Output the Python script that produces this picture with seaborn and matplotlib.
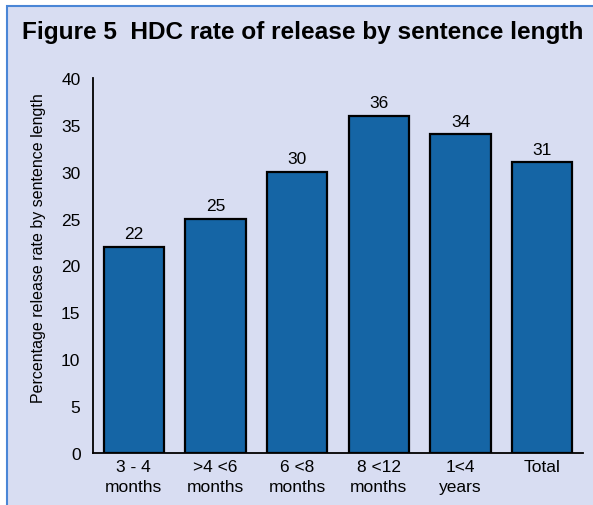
import matplotlib
matplotlib.use("Agg")
import matplotlib.pyplot as plt
import seaborn as sns
import pandas as pd
from matplotlib.patches import Rectangle

categories = ["3 - 4\nmonths", ">4 <6\nmonths", "6 <8\nmonths", "8 <12\nmonths", "1<4\nyears", "Total"]
values = [22, 25, 30, 36, 34, 31]
yticks = [0, 5, 10, 15, 20, 25, 30, 35, 40]

sns.set_style("white")
plt.rcParams["font.family"] = ["Liberation Sans", "DejaVu Sans"]
plt.rcParams["text.color"] = "black"
plt.rcParams["xtick.color"] = "black"
plt.rcParams["ytick.color"] = "black"
plt.rcParams["axes.labelcolor"] = "black"

bg = "#d8ddf2"
fig = plt.figure(figsize=(5.93, 5.06), dpi=100)
fig.patch.set_facecolor("white")
fig.add_artist(Rectangle((7 / 593, -0.01), 1.0, 1 - 7 / 506 + 0.01, transform=fig.transFigure,
                         facecolor=bg, edgecolor="#4a86d6", linewidth=1.5, zorder=0))

ax = fig.add_axes([93 / 593, 1 - 454 / 506, (583 - 93) / 593, (454 - 79) / 506])
ax.set_facecolor("none")

df = pd.DataFrame({"cat": categories, "val": values})
sns.barplot(data=df, x="cat", y="val", color="#1565a5", saturation=1, width=0.74,
            edgecolor="black", linewidth=1.6, ax=ax)

for i, v in enumerate(values):
    ax.text(i, v + 0.6, str(v), ha="center", va="bottom", fontsize=12.5)

ax.set_xlim(-0.5, len(values) - 0.5)
ax.set_ylim(0, 40)
ax.set_yticks(yticks)
ax.set_yticklabels([str(t) for t in yticks], fontsize=12.5)
ax.tick_params(axis="y", length=0, pad=9)
ax.tick_params(axis="x", which="major", length=0, pad=4, labelsize=12.5)
ax.set_xticks([i + 0.5 for i in range(-1, len(values))], minor=True)
ax.tick_params(axis="x", which="minor", direction="in", length=7, width=1.3, color="black")
ax.set_xlabel("")
ax.set_ylabel("Percentage release rate by sentence length", fontsize=11.5)
ax.yaxis.set_label_coords(-0.095, 0.55)
for s in ["top", "right"]:
    ax.spines[s].set_visible(False)
for s in ["left", "bottom"]:
    ax.spines[s].set_color("black")
    ax.spines[s].set_linewidth(1.3)
for lab in ax.get_xticklabels():
    lab.set_linespacing(1.45)

fig.text(303 / 593, 1 - 33 / 506, "Figure 5  HDC rate of release by sentence length",
         ha="center", va="center", fontsize=17.6, fontweight="bold")

fig.savefig("out.png", dpi=100, facecolor="white")
